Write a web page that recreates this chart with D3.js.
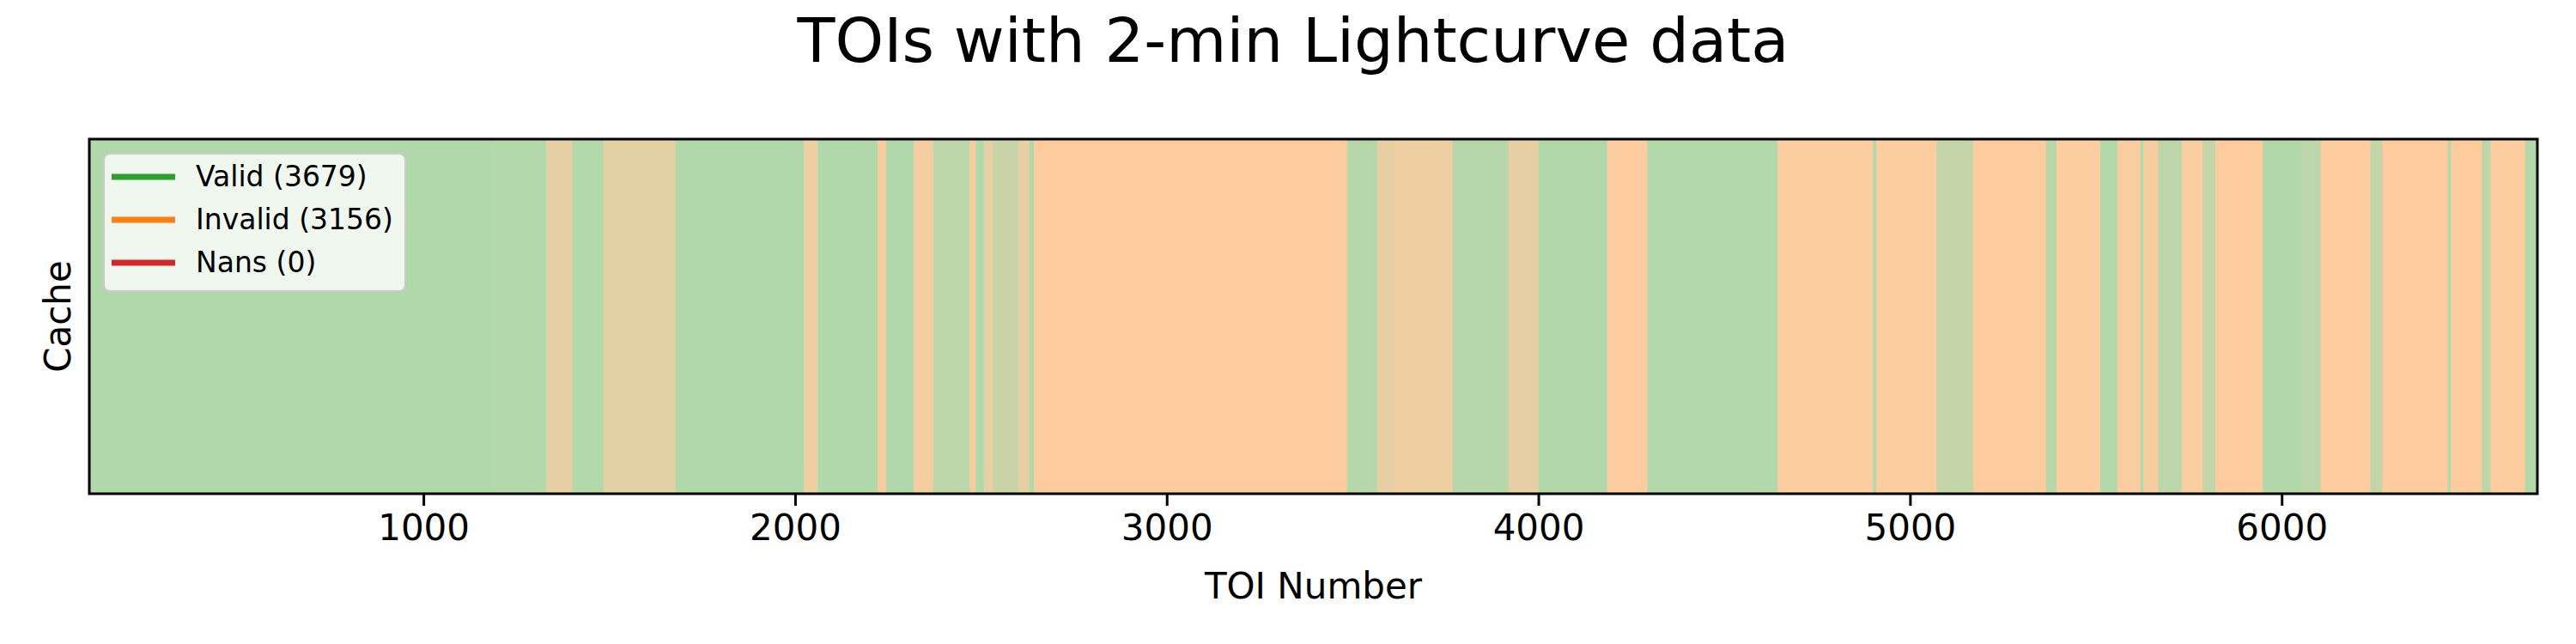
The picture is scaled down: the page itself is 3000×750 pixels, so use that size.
<!DOCTYPE html>
<html><head><meta charset="utf-8">
<script src="https://cdn.jsdelivr.net/npm/d3@7"></script>
<style>body{margin:0;background:#fff}text{font-family:"DejaVu Sans",sans-serif}</style>
</head><body><svg id="c" width="3000" height="750"></svg>
<script>
// Segments of TOI numbers: start, end, fraction of valid TOIs in that stretch
const segStart = [101,1177,1331,1401,1484,1678,2024,2061,2222,2245,2319,2372,2470,2486,2509,2532,2601,2631,2643,3485,3566,3612,3769,3919,4000,4185,4293,4644,4900,4909,5071,5170,5366,5394,5512,5558,5620,5628,5667,5731,5787,5822,5949,6054,6105,6239,6271,6447,6455,6539,6562,6655];
const segEnd   = [1177,1331,1401,1484,1678,2024,2061,2222,2245,2319,2372,2470,2486,2509,2532,2601,2631,2643,3485,3566,3612,3769,3919,4000,4185,4293,4644,4900,4909,5071,5170,5366,5394,5512,5558,5620,5628,5667,5731,5787,5822,5949,6054,6105,6239,6271,6447,6455,6539,6562,6655,6688];
const validFrac= [0.94,0.9,0.3,0.9,0.35,0.93,0.2,0.93,0.1,0.93,0.15,0.8,0.1,0.9,0.3,0.65,0.3,0.9,0.03,0.88,0.3,0.2,0.88,0.3,0.92,0.02,0.9,0.04,0.9,0.04,0.7,0.03,0.85,0.04,0.9,0.08,0.9,0.1,0.8,0.08,0.7,0.03,0.92,0.8,0.02,0.7,0.03,0.9,0.03,0.8,0.04,0.9];
const xTicks = [1000,2000,3000,4000,5000,6000];
const legendLabels = ["Valid (3679)","Invalid (3156)","Nans (0)"];
const legendColors = ["#2ca02c","#ff7f0e","#d62728"];
const xDomain = [101,6688];

const svg = d3.select("#c");
const L=104,R=2955,T=162,B=575;
const x = d3.scaleLinear().domain(xDomain).range([L,R]);
const lightG = d3.interpolateRgb("#fff","#2ca02c")(0.4), lightO = d3.interpolateRgb("#fff","#ff7f0e")(0.4);
const mix = d3.interpolateRgb(lightO, lightG);
const segs = segStart.map((s,i)=>({s, e:segEnd[i], f:validFrac[i]}));
svg.append("g").selectAll("rect").data(segs).join("rect")
  .attr("x",d=>x(d.s)).attr("width",d=>x(d.e)-x(d.s)+0.5)
  .attr("y",T).attr("height",B-T).attr("fill",d=>mix(d.f));
svg.append("rect").attr("x",L).attr("y",T).attr("width",R-L).attr("height",B-T)
  .attr("fill","none").attr("stroke","#000").attr("stroke-width",3);
const ax = svg.append("g").attr("transform",`translate(0,${B})`)
  .call(d3.axisBottom(x).tickValues(xTicks).tickFormat(d3.format("d")).tickSize(14).tickPadding(10));
ax.select(".domain").remove();
ax.selectAll("line").attr("stroke-width",3);
ax.selectAll("text").attr("font-size",42).attr("font-family","DejaVu Sans");
svg.append("text").attr("x",(L+R)/2).attr("y",697).attr("text-anchor","middle").attr("font-size",42).text("TOI Number");
svg.append("text").attr("transform",`translate(82,${(T+B)/2}) rotate(-90)`).attr("text-anchor","middle").attr("font-size",42).text("Cache");
svg.append("text").attr("x",1506).attr("y",72).attr("text-anchor","middle").attr("font-size",72).text("TOIs with 2-min Lightcurve data");
const lg = svg.append("g");
lg.append("rect").attr("x",121).attr("y",179).attr("width",351).attr("height",160).attr("rx",7)
  .attr("fill","#fff").attr("fill-opacity",0.8).attr("stroke","#ccc").attr("stroke-width",2);
legendLabels.forEach((t,i)=>{
  const yy=206+i*50;
  lg.append("line").attr("x1",130).attr("x2",204).attr("y1",yy).attr("y2",yy).attr("stroke",legendColors[i]).attr("stroke-width",7);
  lg.append("text").attr("x",228).attr("y",yy+11).attr("font-size",33).text(t);
});
</script></body></html>
